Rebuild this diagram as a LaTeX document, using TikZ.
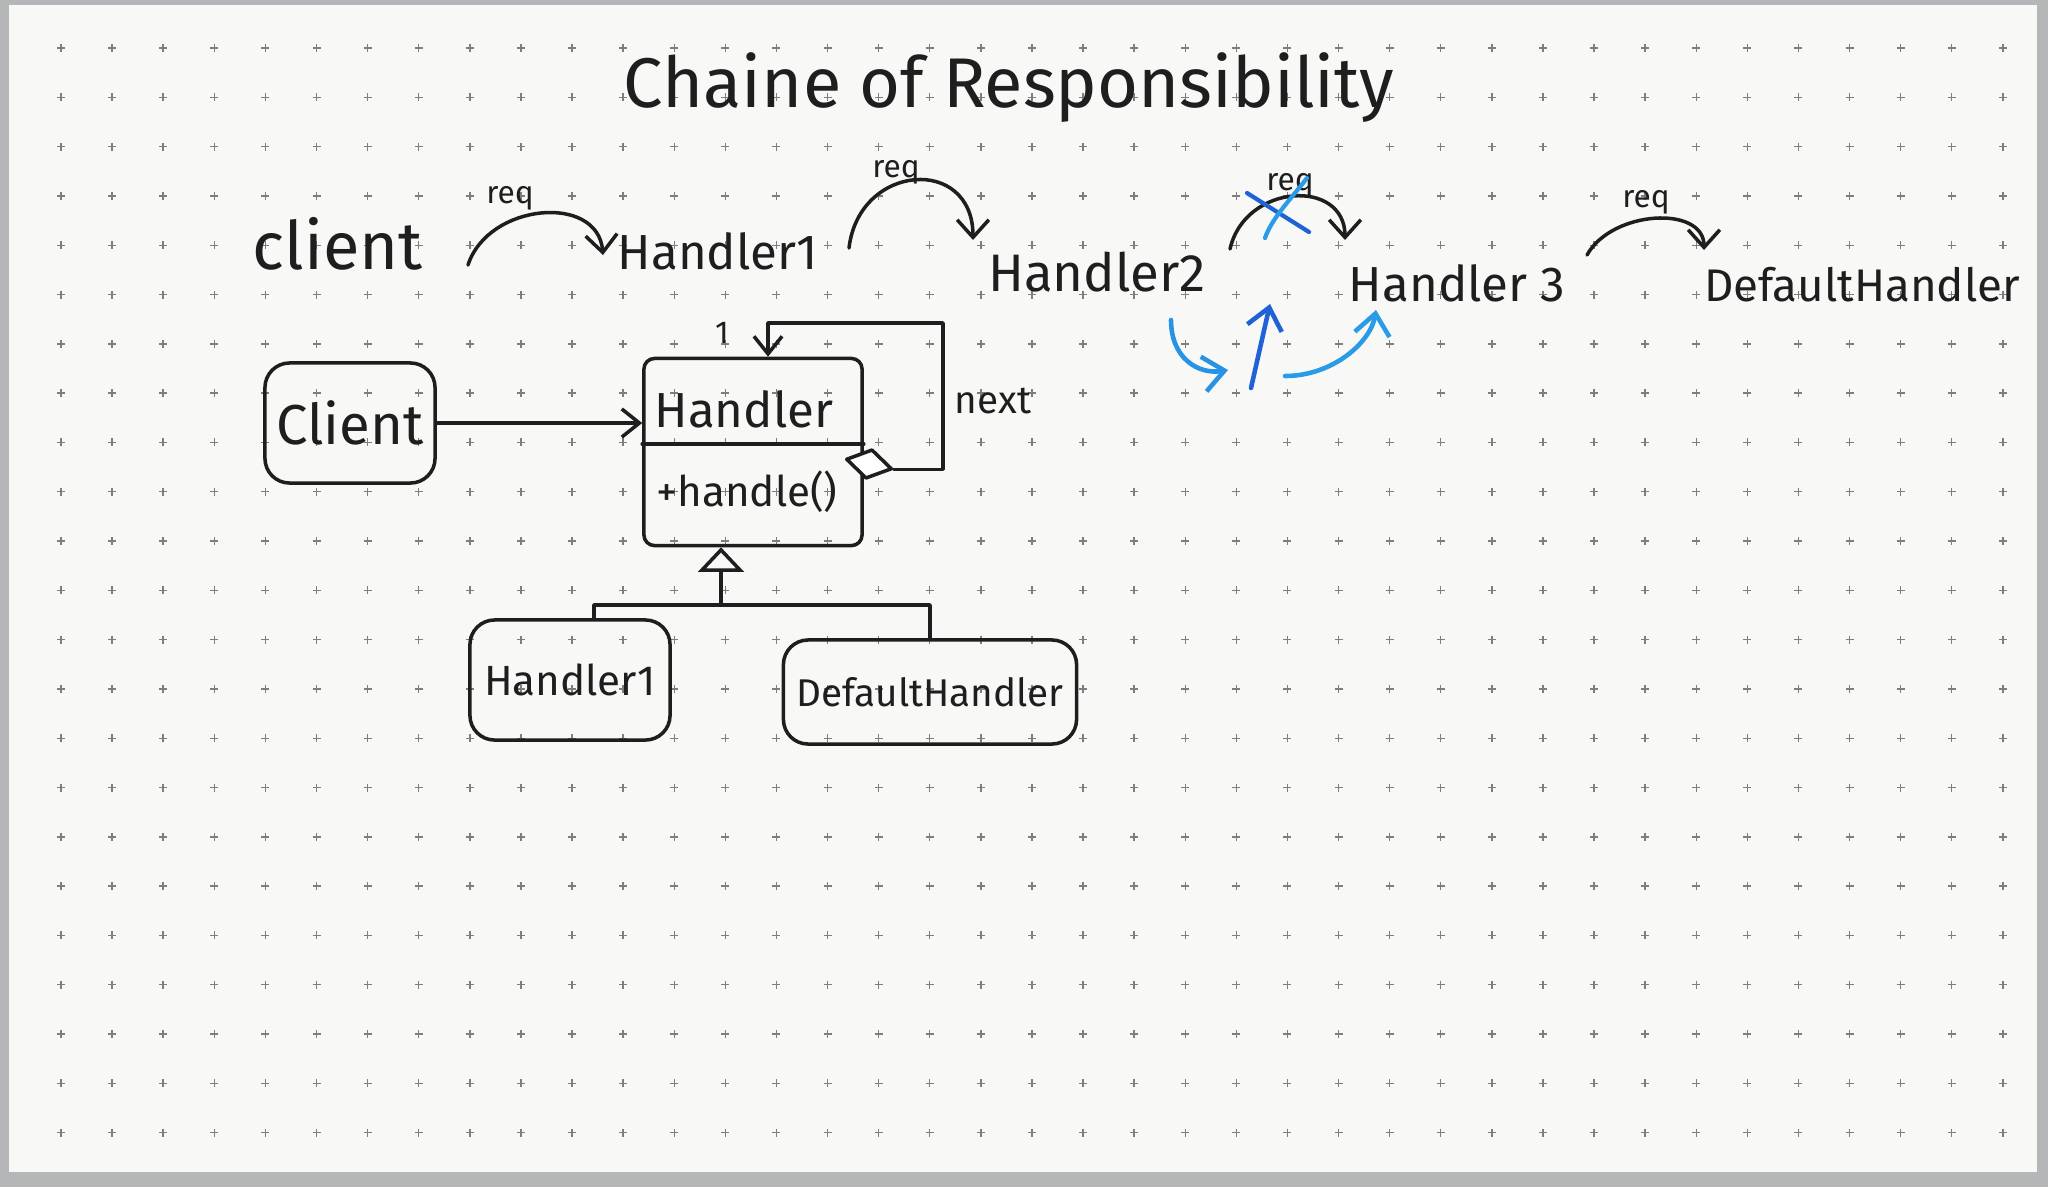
\documentclass[tikz,border=0pt]{standalone}
\usepackage{fontspec}
\setmainfont{Fira Sans}
\usetikzlibrary{arrows.meta,shapes.geometric}
\definecolor{wbInk}{HTML}{1E1E1E}
\definecolor{wbBlue}{HTML}{2A9BE6}
\definecolor{wbDeep}{HTML}{1F62D6}
\definecolor{wbBoard}{HTML}{F8F8F7}
\definecolor{wbFrame}{HTML}{B4B6B8}
\definecolor{wbDot}{HTML}{7E7E7E}
\tikzset{
  wb pen/.style={draw=wbInk, line width=1pt, line cap=round, line join=round},
  wb blue/.style={draw=wbBlue, line width=1.3pt, line cap=round, -{Straight Barb[length=6pt,width=10pt]}},
  wb word/.style={font=\fontsize{15}{18}\selectfont, text=wbInk, inner sep=1pt},
  wb req/.style={font=\fontsize{9}{11}\selectfont, text=wbInk, inner sep=1pt},
  wb box/.style={wb pen, rounded corners=7pt, inner sep=0pt, font=\fontsize{13}{16}\selectfont, text=wbInk},
  wb hook/.style={wb pen, -{Straight Barb[length=5pt,width=9pt]}},
  wb open/.style={wb pen, -{Straight Barb[length=5pt,width=8pt]}},
}

\begin{document}
\begin{tikzpicture}[x=0.01cm,y=-0.01cm]
  \useasboundingbox (0,0) rectangle (2048,1187);
  % board with its frame
  \fill[wbFrame] (0,0) rectangle (2048,1187);
  \fill[wbBoard] (9,5) rectangle (2037,1172);
  % dot grid of the board
  \foreach \i in {0,...,38}
    \foreach \j in {0,...,22}
      \draw[wbDot, line width=0.4pt] (57+\i*51.1,48+\j*49.3) -- ++(8,0)
        (61+\i*51.1,44+\j*49.3) -- ++(0,8);

  % title
  \node[wb word, font=\fontsize{20}{24}\selectfont] (title) at (1009,88) {Chaine of Responsibility};

  % request passed along the chain
  \node[wb word, font=\fontsize{19}{22}\selectfont] (wcl) at (338,244) {client};
  \node[wb word, font=\fontsize{14}{17}\selectfont] (wh1) at (718,251) {Handler1};
  \node[wb word] (wh2) at (1097,272) {Handler2};
  \node[wb word, font=\fontsize{14}{17}\selectfont] (wh3) at (1457,283) {Handler 3};
  \node[wb word, font=\fontsize{13}{16}\selectfont] (wdh) at (1862,285) {DefaultHandler};
  \coordinate (r1a) at (468,265);
  \coordinate (r1b) at (603,255);
  \coordinate (r2a) at (849,248);
  \coordinate (r2b) at (973,240);
  \coordinate (r3a) at (1230,249);
  \coordinate (r3b) at (1345,240);
  \coordinate (r4a) at (1587,255);
  \coordinate (r4b) at (1704,250);
  \draw[wb hook] (r1a) .. controls +(20,-62) and +(-5,-62) .. (r1b);
  \draw[wb hook] (r2a) .. controls +(10,-85) and +(0,-85) .. (r2b);
  \draw[wb hook] (r3a) .. controls +(15,-66) and +(0,-62) .. (r3b);
  \draw[wb hook] (r4a) .. controls +(25,-45) and +(0,-45) .. (r4b);
  \node[wb req] (rq1) at (510,198) {req};
  \node[wb req] (rq2) at (896,172) {req};
  \node[wb req] (rq3) at (1290,185) {req};
  \node[wb req] (rq4) at (1646,202) {req};
  % crossed out step, in blue
  \draw[draw=wbDeep, line width=1.2pt, line cap=round] (1247,193) -- (1309,232);
  \draw[draw=wbBlue, line width=1.2pt, line cap=round] (1307,178) .. controls (1290,200) and (1272,218) .. (1265,238);
  % blue arrows round Handler 3
  \coordinate (b1a) at (1171,320);
  \coordinate (b1b) at (1228,370);
  \coordinate (b2a) at (1251,388);
  \coordinate (b2b) at (1270,304);
  \coordinate (b3a) at (1285,376);
  \coordinate (b3b) at (1376,310);
  \draw[wb blue, draw=wbBlue!85!wbDeep] (b1a) .. controls +(0,38) and +(-30,5) .. (b1b);
  \draw[wb blue, draw=wbDeep] (b2a) -- (b2b);
  \draw[wb blue] (b3a) .. controls +(48,0) and +(-5,32) .. (b3b);

  % class diagram
  \node[wb box, minimum width=1.7cm, minimum height=1.2cm, font=\fontsize{16}{19}\selectfont] (cl) at (350,423) {Client};
  \node[wb box, rounded corners=3pt, minimum width=2.18cm, minimum height=1.87cm] (hdl) at (753,452) {};
  \node[wb word, font=\fontsize{14}{17}\selectfont] (hname) at (744,409) {Handler};
  \node[wb word, font=\fontsize{12}{14}\selectfont] (hop) at (747,492) {+handle()};
  \coordinate (hsplit) at (0,444);
  \draw[wb pen] (hdl.west |- hsplit) -- (hdl.east |- hsplit);
  \draw[wb open] (cl.east) -- (cl.east -| hdl.west);
  % next reference with aggregation diamond
  \node[wb pen, diamond, fill=white, minimum width=0.47cm, minimum height=0.3cm, inner sep=0pt, rotate=-12] (agg) at (869,464) {};
  \coordinate (loop) at (943,323);
  \draw[wb open] (agg.east) -| (loop) -| ([xshift=0.15cm]hdl.north);
  \node[wb word, font=\fontsize{11}{13}\selectfont] (nxt) at (993,401) {next};
  \node[wb req] (mult) at (722,333) {1};
  % subclasses
  \node[wb box, minimum width=2.0cm, minimum height=1.2cm, font=\fontsize{12}{14}\selectfont] (hc1) at (570,680) {Handler1};
  \node[wb box, minimum width=2.93cm, minimum height=1.04cm, font=\fontsize{11}{13}\selectfont] (dhc) at (930,692) {DefaultHandler};
  \coordinate (jn) at (721,605);
  \draw[wb pen] ([xshift=0.24cm]hc1.north) |- (jn) -| (dhc.north);
  \draw[wb pen, -{Triangle[open,length=7pt,width=13pt]}] (jn) -- (jn |- hdl.south);
\end{tikzpicture}
\end{document}
